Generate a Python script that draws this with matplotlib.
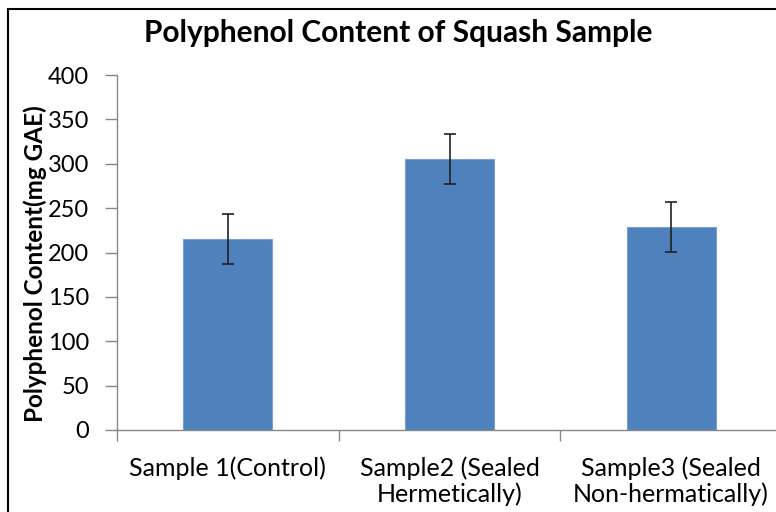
import numpy as np
import matplotlib
matplotlib.use("Agg")
import matplotlib.pyplot as plt
from matplotlib.patches import Rectangle

plt.rcParams['font.family'] = ['Lato', 'DejaVu Sans']

# data
categories = ['Sample 1(Control)', 'Sample2 (Sealed\nHermetically)', 'Sample3 (Sealed\nNon-hermatically)']
polyphenol = [215, 305, 229]
errors = [28, 28, 28]
yticks = [0, 50, 100, 150, 200, 250, 300, 350, 400]

fig = plt.figure(figsize=(7.76, 5.12), dpi=100)
ax = fig.add_axes([117/776, 1 - 430/512, 665/776, 355/512])

x = np.arange(len(categories))
ax.bar(x, polyphenol, width=0.4, color='#4f81bd', edgecolor='#7a9fd0', linewidth=0.8,
       yerr=errors, error_kw=dict(ecolor='#222222', elinewidth=1.2, capsize=4, capthick=1.2))

ax.set_xlim(-0.5, len(categories) - 0.5)
ax.set_ylim(0, 400)
ax.set_yticks(yticks)
ax.set_xticks(x)
ax.set_xticklabels(categories, fontsize=18, linespacing=1.1)
ax.set_xticks(np.arange(-0.5, len(categories), 1), minor=True)
ax.tick_params(axis='x', which='major', length=0, pad=19)
ax.tick_params(axis='x', which='minor', length=8, width=1, color='#888888', direction='out')
ax.tick_params(axis='y', labelsize=17, length=9, width=1, color='#888888', pad=11)

for s in ['top', 'right']:
    ax.spines[s].set_visible(False)
for s in ['left', 'bottom']:
    ax.spines[s].set_color('#888888')
    ax.spines[s].set_linewidth(1)

ax.set_ylabel('Polyphenol Content(mg GAE)', fontsize=17.5, fontweight='bold', va='center')
ax.yaxis.set_label_coords((35 - 117) / 665, 0.47)
fig.text(398/776, 1 - 33/512, 'Polyphenol Content of Squash Sample', fontsize=21.5,
         fontweight='bold', ha='center', va='center')

# outer border of the chart area
fig.patches.append(Rectangle((8/776, -0.5), 2, 1.5 - 9/512, transform=fig.transFigure,
                             fill=False, edgecolor='black', linewidth=1.5))

fig.savefig('out.png', dpi=100)
